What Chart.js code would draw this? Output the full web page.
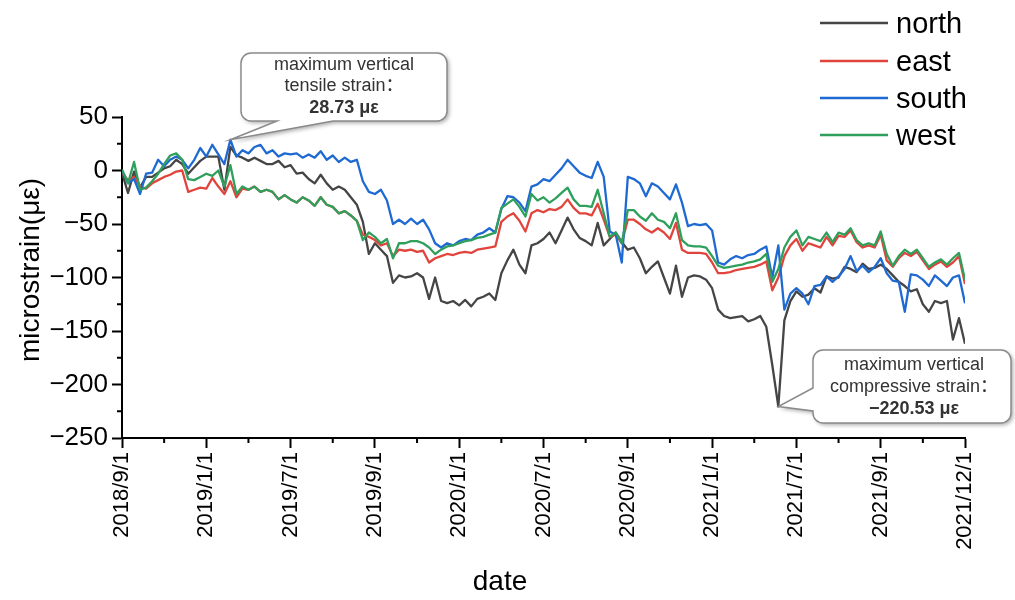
<!DOCTYPE html>
<html>
<head>
<meta charset="utf-8">
<script src="https://cdn.jsdelivr.net/npm/chart.js@4.4.1/dist/chart.umd.min.js"></script>
<style>
  html, body { margin: 0; padding: 0; background: #fff; }
  #wrap { width: 1015px; height: 600px; position: relative; }
</style>
</head>
<body>
<div id="wrap"><canvas id="c" width="1015" height="600"></canvas></div>
<script>
// Tick labels along the date axis (evenly spaced positions)
const dateLabels = ['2018/9/1', '2019/1/1', '2019/7/1', '2019/9/1', '2020/1/1', '2020/7/1',
  '2020/9/1', '2021/1/1', '2021/7/1', '2021/9/1', '2021/12/1'];

// Microstrain readings (με) for each side, sampled at equal steps along the date axis
const north = [-2,-21,-1,-16,-6,-6,-2,2,4,10,6,-3,3,9,13,13,13,-18,22,14,
  12,9,12,9,6,6,9,3,5,-3,-2,-8,-12,-4,-12,-18,-15,-18,-25,-32,
  -48,-78,-68,-74,-80,-105,-98,-100,-99,-96,-100,-120,-100,-122,-124,-122,-126,-121,-127,-120,
  -118,-115,-121,-96,-84,-74,-88,-96,-70,-68,-64,-58,-68,-56,-44,-55,-63,-66,-70,-49,
  -70,-64,-58,-67,-74,-72,-82,-96,-90,-85,-100,-115,-89,-118,-100,-98,-99,-102,-110,-130,
  -136,-138,-137,-136,-141,-139,-136,-146,-182,-220.53,-140,-122,-113,-118,-116,-110,-114,-99,-101,-100,
  -90,-92,-95,-87,-92,-91,-88,-92,-98,-104,-108,-113,-111,-125,-132,-122,-124,-122,-158,-138,-162];

const east = [-2,-9,-6,-15,-17,-12,-9,-6,-4,-1,0,-20,-18,-16,-17,-7,-15,-22,-10,-25,
  -17,-18,-15,-20,-18,-20,-27,-23,-27,-30,-25,-28,-33,-25,-32,-34,-40,-38,-42,-47,
  -60,-62,-65,-70,-68,-80,-74,-75,-74,-76,-75,-86,-82,-80,-78,-79,-77,-76,-77,-74,
  -73,-72,-71,-48,-43,-40,-47,-57,-40,-37,-39,-36,-37,-34,-27,-35,-40,-40,-42,-31,
  -46,-62,-60,-68,-46,-46,-50,-55,-58,-54,-58,-64,-49,-74,-77,-77,-77,-78,-86,-96,
  -96,-95,-93,-92,-91,-90,-88,-85,-112,-100,-80,-70,-64,-75,-68,-70,-72,-62,-70,-61,
  -62,-56,-67,-72,-70,-72,-60,-84,-90,-82,-77,-80,-76,-84,-92,-88,-85,-90,-86,-80,-106];

const south = [0,-12,-8,-22,-3,-2,10,4,10,13,10,2,10,21,13,24,15,6,28.73,13,
  19,16,22,24,16,19,13,16,15,16,12,15,12,18,10,14,8,12,8,10,
  -10,-20,-22,-18,-28,-50,-46,-50,-45,-50,-46,-55,-68,-72,-68,-70,-66,-64,-65,-60,
  -58,-54,-58,-36,-24,-25,-30,-38,-15,-13,-8,-10,-4,2,10,4,-2,-5,-7,8,
  -6,-57,-60,-86,-6,-8,-12,-24,-12,-15,-21,-27,-13,-30,-52,-50,-51,-50,-56,-86,
  -88,-83,-80,-82,-79,-78,-74,-71,-100,-70,-130,-115,-110,-115,-125,-108,-107,-99,-104,-99,
  -92,-80,-94,-89,-95,-90,-82,-96,-103,-104,-132,-97,-98,-102,-108,-98,-103,-108,-100,-98,-124];

const west = [1,-12,8,-18,-16,-10,-3,6,14,16,10,-8,-9,-6,-3,-5,0,-15,5,-22,
  -15,-18,-15,-20,-18,-20,-27,-23,-27,-30,-25,-28,-33,-25,-32,-34,-40,-38,-42,-47,
  -65,-58,-62,-68,-64,-82,-68,-68,-66,-66,-68,-72,-78,-74,-71,-70,-68,-66,-65,-63,
  -62,-60,-58,-35,-31,-27,-34,-43,-22,-28,-25,-30,-26,-21,-16,-27,-33,-33,-34,-18,
  -40,-62,-58,-68,-37,-37,-43,-47,-40,-46,-48,-54,-40,-65,-70,-71,-71,-72,-80,-89,
  -91,-90,-89,-88,-86,-85,-83,-78,-104,-92,-72,-62,-56,-70,-62,-64,-66,-58,-67,-58,
  -60,-54,-65,-70,-68,-70,-57,-78,-89,-80,-74,-78,-74,-82,-90,-86,-83,-88,-82,-77,-102];

const seriesNames = ['north', 'east', 'south', 'west'];
const seriesColors = ['#454545', '#e0443c', '#1f6ad2', '#2f9f5c'];

// Annotated extremes: index of the point each callout refers to
const tensileIndex = 18;      // south peak
const compressiveIndex = 109; // north trough

const FONT = "'Liberation Sans', Arial, 'Noto Sans CJK SC', sans-serif";
const lastIndex = north.length - 1;
const labelStep = lastIndex / (dateLabels.length - 1);

const toPoints = arr => arr.map((v, i) => ({ x: i, y: v }));
const allSeries = [north, east, south, west];

const datasets = allSeries.map((arr, k) => ({
  label: seriesNames[k],
  data: toPoints(arr),
  borderColor: seriesColors[k],
  backgroundColor: seriesColors[k],
  borderWidth: 2.3,
  pointRadius: 0,
  tension: 0,
  borderJoinStyle: 'round',
  order: allSeries.length - k   // later series drawn on top
}));

function fmtMinus(v) {
  return v < 0 ? '\u2212' + Math.abs(v) : String(v);
}

// Rounded box with a pointer toward (tx, ty); side 'bottom' or 'left'
function callout(ctx, b, side, p1, p2, tx, ty) {
  const { x, y, w, h, r } = b;
  ctx.beginPath();
  ctx.moveTo(x + r, y);
  ctx.lineTo(x + w - r, y);
  ctx.arcTo(x + w, y, x + w, y + r, r);
  ctx.lineTo(x + w, y + h - r);
  ctx.arcTo(x + w, y + h, x + w - r, y + h, r);
  if (side === 'bottom') {
    ctx.lineTo(p2, y + h);
    ctx.lineTo(tx, ty);
    ctx.lineTo(p1, y + h);
  }
  ctx.lineTo(x + r, y + h);
  ctx.arcTo(x, y + h, x, y + h - r, r);
  if (side === 'left') {
    ctx.lineTo(x, p2);
    ctx.lineTo(tx, ty);
    ctx.lineTo(x, p1);
  }
  ctx.lineTo(x, y + r);
  ctx.arcTo(x, y, x + r, y, r);
  ctx.closePath();
}

function drawCallout(ctx, b, side, p1, p2, tx, ty, lines, cx, y0, gap) {
  ctx.save();
  ctx.shadowColor = 'rgba(0,0,0,0.35)';
  ctx.shadowBlur = 4;
  ctx.shadowOffsetX = 2;
  ctx.shadowOffsetY = 2;
  callout(ctx, b, side, p1, p2, tx, ty);
  ctx.fillStyle = '#ffffff';
  ctx.fill();
  ctx.restore();
  ctx.save();
  callout(ctx, b, side, p1, p2, tx, ty);
  ctx.strokeStyle = '#8a8a8a';
  ctx.lineWidth = 1.5;
  ctx.stroke();
  ctx.fillStyle = '#333333';
  ctx.textAlign = 'center';
  ctx.textBaseline = 'middle';
  lines.forEach((ln, i) => {
    ctx.font = (ln.bold ? 'bold ' : '') + '18px ' + FONT;
    ctx.fillText(ln.text, cx, y0 + i * gap);
  });
  ctx.restore();
}

const decorPlugin = {
  id: 'decor',
  afterDraw(chart) {
    const { ctx, scales: { x, y }, chartArea } = chart;
    ctx.save();
    // minor ticks
    ctx.strokeStyle = '#000';
    ctx.lineWidth = 2;
    ctx.beginPath();
    for (let k = 0; k < dateLabels.length - 1; k++) {
      const px = x.getPixelForValue((k + 0.5) * labelStep);
      ctx.moveTo(px, chartArea.bottom);
      ctx.lineTo(px, chartArea.bottom + 5);
    }
    for (let v = -225; v < 50; v += 50) {
      const py = y.getPixelForValue(v);
      ctx.moveTo(chartArea.left - 5, py);
      ctx.lineTo(chartArea.left, py);
    }
    ctx.stroke();

    // axis titles
    ctx.fillStyle = '#000';
    ctx.font = '28px ' + FONT;
    ctx.textAlign = 'center';
    ctx.textBaseline = 'middle';
    ctx.fillText('date', 500, 582);
    ctx.save();
    ctx.translate(31, 270);
    ctx.rotate(-Math.PI / 2);
    ctx.fillText('microstrain(\u03bc\u03b5)', 0, 0);
    ctx.restore();

    // legend
    const legY = [23, 61, 98, 135];
    ctx.font = '29px ' + FONT;
    ctx.textAlign = 'left';
    seriesNames.forEach((name, k) => {
      ctx.strokeStyle = seriesColors[k];
      ctx.lineWidth = 2.5;
      ctx.beginPath();
      ctx.moveTo(820, legY[k]);
      ctx.lineTo(888, legY[k]);
      ctx.stroke();
      ctx.fillStyle = '#000';
      ctx.fillText(name, 896, legY[k] + 2);
    });
    ctx.restore();

    // callouts for the extreme values
    const t1x = x.getPixelForValue(tensileIndex);
    const t1y = y.getPixelForValue(south[tensileIndex]);
    drawCallout(ctx, { x: 241, y: 53, w: 206, h: 68, r: 10 }, 'bottom', 277, 333, t1x, t1y,
      [{ text: 'maximum vertical' }, { text: 'tensile strain\uff1a' },
       { text: south[tensileIndex].toFixed(2) + ' \u03bc\u03b5', bold: true }],
      344, 65, 21.5);

    const t2x = x.getPixelForValue(compressiveIndex);
    const t2y = y.getPixelForValue(north[compressiveIndex]);
    drawCallout(ctx, { x: 813, y: 350, w: 198, h: 73, r: 10 }, 'left', 388, 411, t2x, t2y,
      [{ text: 'maximum vertical' }, { text: 'compressive strain\uff1a' },
       { text: fmtMinus(north[compressiveIndex].toFixed(2) * 1) + ' \u03bc\u03b5', bold: true }],
      914, 365, 22);
  }
};

new Chart(document.getElementById('c'), {
  type: 'line',
  data: { datasets },
  plugins: [decorPlugin],
  options: {
    responsive: false,
    animation: false,
    events: [],
    layout: { padding: { top: 117, right: 50, left: 0, bottom: 0 } },
    plugins: { legend: { display: false }, tooltip: { enabled: false } },
    scales: {
      x: {
        type: 'linear',
        min: 0,
        max: lastIndex,
        afterFit(s) { s.height = 162; },
        afterBuildTicks(s) {
          s.ticks = dateLabels.map((_, k) => ({ value: k * labelStep }));
        },
        ticks: {
          autoSkip: false,
          minRotation: 90,
          maxRotation: 90,
          padding: 4,
          color: '#000',
          font: { family: FONT, size: 22 },
          callback: (v) => dateLabels[Math.round(v / labelStep)]
        },
        grid: { display: true, drawOnChartArea: false, drawTicks: true, tickLength: 10,
                tickWidth: 2, tickColor: '#000', color: '#000' },
        border: { display: true, color: '#000', width: 2 }
      },
      y: {
        type: 'linear',
        min: -250,
        max: 50,
        afterFit(s) { s.width = 122; },
        ticks: {
          stepSize: 50,
          padding: 4,
          color: '#000',
          font: { family: FONT, size: 26 },
          callback: (v) => fmtMinus(v)
        },
        grid: { display: true, drawOnChartArea: false, drawTicks: true, tickLength: 10,
                tickWidth: 2, tickColor: '#000', color: '#000' },
        border: { display: true, color: '#000', width: 2 }
      }
    }
  }
});
</script>
</body>
</html>
